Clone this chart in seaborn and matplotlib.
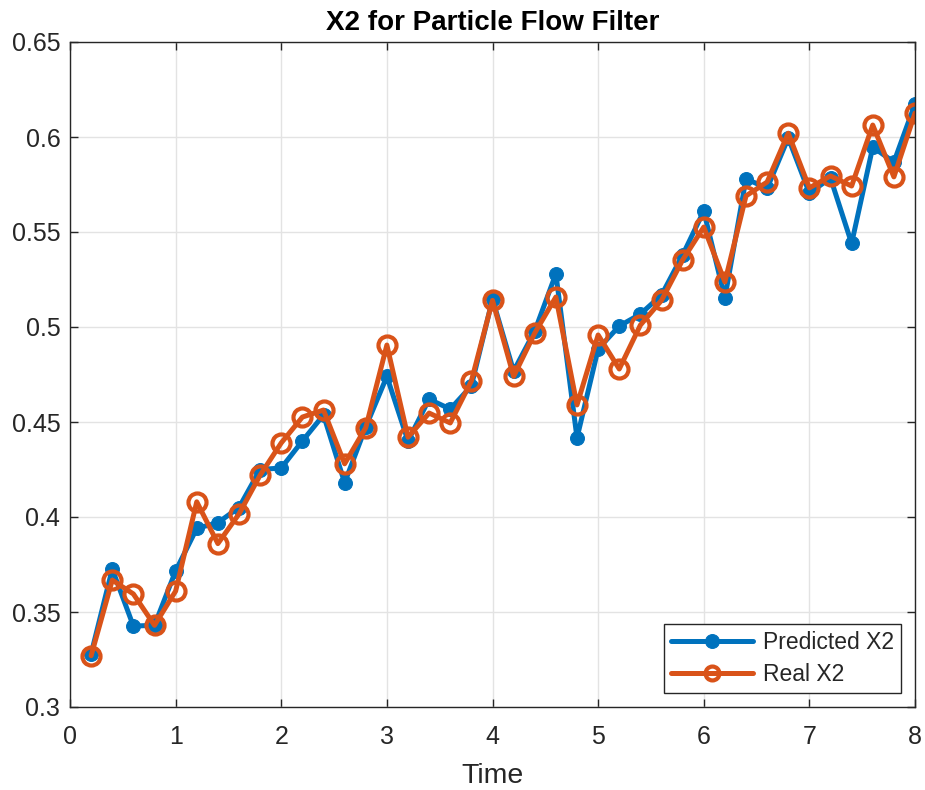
import numpy as np
import pandas as pd
import matplotlib
matplotlib.use("Agg")
import matplotlib.pyplot as plt
import seaborn as sns

time = [0.2, 0.4, 0.6, 0.8, 1.0, 1.2, 1.4, 1.6, 1.8, 2.0,
        2.2, 2.4, 2.6, 2.8, 3.0, 3.2, 3.4, 3.6, 3.8, 4.0,
        4.2, 4.4, 4.6, 4.8, 5.0, 5.2, 5.4, 5.6, 5.8, 6.0,
        6.2, 6.4, 6.6, 6.8, 7.0, 7.2, 7.4, 7.6, 7.8, 8.0]
predicted_x2 = [0.328, 0.3726, 0.3426, 0.343, 0.3716, 0.394, 0.397, 0.405, 0.425, 0.4258,
                0.440, 0.4537, 0.418, 0.4474, 0.474, 0.440, 0.462, 0.4568, 0.469, 0.5147,
                0.4768, 0.4979, 0.528, 0.4416, 0.4884, 0.5005, 0.5068, 0.5168, 0.5379, 0.561,
                0.5153, 0.578, 0.573, 0.5995, 0.5705, 0.5784, 0.544, 0.5947, 0.5868, 0.6174]
real_x2 = [0.327, 0.3668, 0.3595, 0.343, 0.361, 0.408, 0.386, 0.4016, 0.422, 0.439,
           0.4526, 0.4563, 0.428, 0.447, 0.4905, 0.442, 0.4547, 0.4495, 0.4716, 0.514,
           0.474, 0.4968, 0.5158, 0.459, 0.4958, 0.4779, 0.501, 0.514, 0.5353, 0.5526,
           0.5237, 0.569, 0.5763, 0.602, 0.5732, 0.5795, 0.5742, 0.6063, 0.579, 0.6126]
x_ticks = [0, 1, 2, 3, 4, 5, 6, 7, 8]
y_ticks = [0.3, 0.35, 0.4, 0.45, 0.5, 0.55, 0.6, 0.65]
y_tick_labels = ["0.3", "0.35", "0.4", "0.45", "0.5", "0.55", "0.6", "0.65"]

sns.set_theme(style="whitegrid")
plt.rcParams['font.family'] = ['Liberation Sans', 'DejaVu Sans']

df = pd.DataFrame({"Time": time, "Predicted X2": predicted_x2, "Real X2": real_x2})

fig = plt.figure(figsize=(9.25, 7.9), dpi=100)
ax = fig.add_axes([70/925, 1 - 707/790, 845/925, 665/790])

blue = "#0072BD"
orange = "#D95319"
sns.lineplot(data=df, x="Time", y="Predicted X2", ax=ax, color=blue, linewidth=3.6,
             marker="o", markersize=10, markeredgecolor=blue, markerfacecolor=blue,
             label="Predicted X2")
sns.lineplot(data=df, x="Time", y="Real X2", ax=ax, color=orange, linewidth=3.6,
             marker="o", markersize=13, markeredgecolor=orange, markerfacecolor="none",
             markeredgewidth=3, label="Real X2")

ax.set_xlim(0, 8)
ax.set_ylim(0.3, 0.65)
ax.set_xticks(x_ticks)
ax.set_xticklabels([str(t) for t in x_ticks])
ax.set_yticks(y_ticks)
ax.set_yticklabels(y_tick_labels)
ax.tick_params(axis="both", labelsize=18, colors="#262626", direction="in", length=6,
               width=1, left=True, bottom=True, top=True, right=True)
ax.tick_params(axis="x", pad=13)
ax.tick_params(axis="y", pad=7)
ax.grid(True, color="#e3e3e3", linewidth=1)
for s in ax.spines.values():
    s.set_color("#262626")
    s.set_linewidth(1)
ax.set_xlabel("Time", fontsize=20.5, color="#262626", labelpad=10)
ax.set_ylabel("")
ax.set_title("X2 for Particle Flow Filter", fontsize=20, fontweight="bold", color="black", pad=9)

leg = ax.legend(loc="lower right", fontsize=16.5, frameon=True, fancybox=False,
                edgecolor="#262626", framealpha=1, handlelength=3.6,
                borderaxespad=0.6, labelspacing=0.42, handletextpad=0.45, borderpad=0.3)
leg.get_frame().set_linewidth(1)
for h in leg.legend_handles:
    h.set_markersize(10)

fig.savefig("out.png", dpi=100)
